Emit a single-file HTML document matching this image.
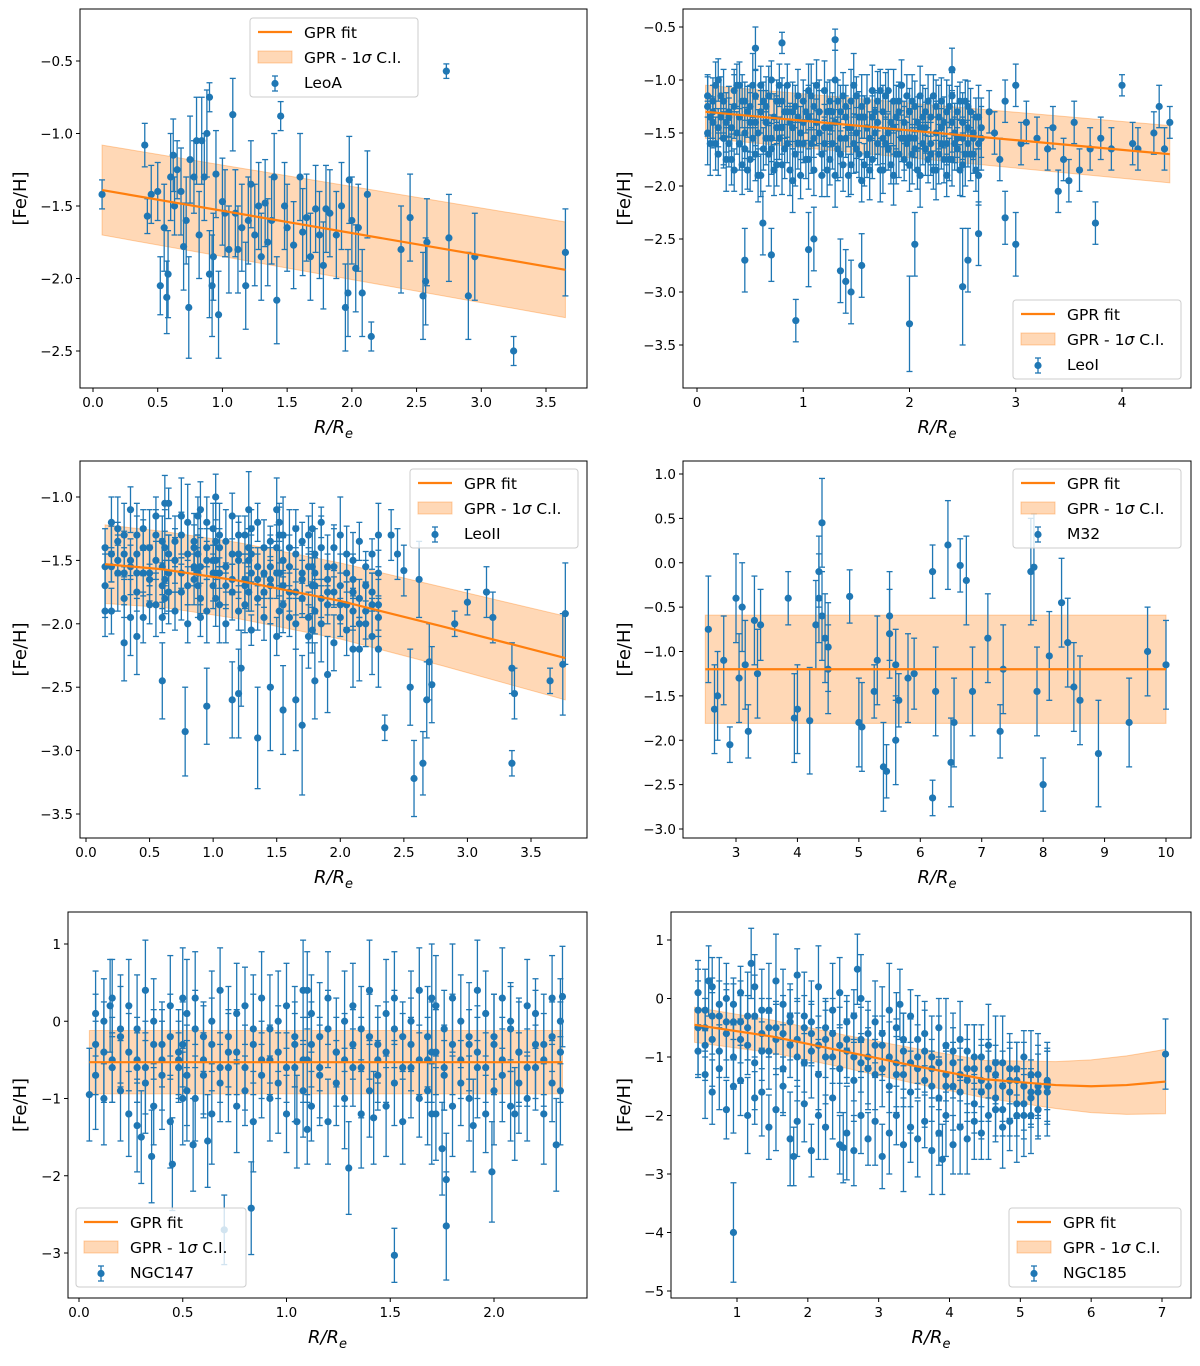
<!DOCTYPE html>
<html><head><meta charset="utf-8"><style>
html,body{margin:0;padding:0;background:#fff;}
svg text{font-family:"DejaVu Sans","Liberation Sans",sans-serif;fill:#000;}
</style></head><body>
<svg id="fig" width="1200" height="1361" viewBox="0 0 1200 1361" xmlns="http://www.w3.org/2000/svg"></svg>
<script>
// ---------------- DATA ----------------
// LeoA
const leoA_x=[0.07,0.4,0.42,0.45,0.5,0.52,0.55,0.57,0.58,0.6,0.62,0.63,0.65,0.68,0.7,0.72,0.74,0.75,0.78,0.8,0.82,0.84,0.86,0.88,0.9,0.9,0.92,0.93,0.95,0.97,1.0,1.02,1.05,1.08,1.1,1.12,1.15,1.18,1.2,1.22,1.25,1.28,1.3,1.33,1.35,1.38,1.4,1.42,1.45,1.48,1.5,1.55,1.6,1.62,1.65,1.68,1.72,1.75,1.78,1.8,1.83,1.88,1.92,1.95,1.97,1.98,2.0,2.03,2.05,2.08,2.12,2.15,2.38,2.45,2.55,2.57,2.58,2.75,2.9,2.95,2.73,3.25,3.65];
const leoA_y=[-1.42,-1.08,-1.57,-1.42,-1.4,-2.05,-1.65,-2.13,-1.97,-1.3,-1.15,-1.5,-1.25,-1.4,-1.78,-1.6,-2.2,-1.18,-1.3,-1.05,-1.7,-1.05,-1.3,-1.0,-0.75,-1.97,-2.05,-1.85,-1.28,-2.25,-1.47,-1.55,-1.8,-0.87,-1.55,-1.8,-1.65,-2.05,-1.6,-1.35,-1.7,-1.5,-1.85,-1.48,-1.75,-1.6,-1.3,-2.15,-0.88,-1.5,-1.65,-1.77,-1.3,-1.68,-1.58,-1.85,-1.52,-1.7,-1.91,-1.52,-1.55,-1.7,-1.5,-2.2,-2.1,-1.32,-1.6,-1.93,-1.65,-2.1,-1.42,-2.4,-1.8,-1.58,-2.12,-2.02,-1.75,-1.72,-2.12,-1.85,-0.57,-2.5,-1.82];
const leoA_e=[0.1,0.15,0.12,0.2,0.2,0.2,0.3,0.25,0.3,0.3,0.25,0.2,0.2,0.3,0.3,0.3,0.35,0.3,0.25,0.3,0.3,0.3,0.3,0.3,0.1,0.3,0.35,0.3,0.3,0.3,0.3,0.3,0.3,0.25,0.3,0.3,0.3,0.3,0.3,0.3,0.35,0.3,0.3,0.3,0.3,0.3,0.3,0.3,0.1,0.3,0.3,0.3,0.3,0.3,0.3,0.3,0.3,0.3,0.3,0.3,0.3,0.3,0.3,0.3,0.3,0.3,0.3,0.3,0.3,0.3,0.3,0.1,0.3,0.3,0.3,0.3,0.3,0.3,0.3,0.3,0.05,0.1,0.3];
const leoA_fitX=[0.07,3.65];
const leoA_fitY=[-1.39,-1.94];
const leoA_fitS=[0.31,0.33];
const leoA_xticks=[0,0.5,1,1.5,2,2.5,3,3.5];
const leoA_yticks=[-0.5,-1,-1.5,-2,-2.5];

// LeoI
const leoI_cx=[0.1,0.15,0.2,0.25,0.3,0.35,0.4,0.45,0.5,0.55,0.6,0.65,0.7,0.75,0.8,0.85,0.9,0.95,1.0,1.05,1.1,1.15,1.2,1.25,1.3,1.35,1.4,1.45,1.5,1.55,1.6,1.65,1.7,1.75,1.8,1.85,1.9,1.95,2.0,2.05,2.1,2.15,2.2,2.25,2.3,2.35,2.4,2.45,2.5,2.55,2.6,2.65];
const leoI_cyA=[-1.15,-1.3,-1.45,-1.2,-1.6,-1.1,-1.35,-1.5,-1.25,-1.7,-1.05,-1.4,-1.55,-1.2,-1.8,-1.3,-1.45,-1.15,-1.6,-1.35,-1.25,-1.5,-1.1,-1.75,-1.4,-1.3,-1.55,-1.2,-1.65,-1.35,-1.45,-1.1,-1.6,-1.3,-1.5,-1.2,-1.7,-1.4,-1.55,-1.25,-1.45,-1.65,-1.35,-1.5,-1.2,-1.6,-1.4,-1.3,-1.55,-1.45,-1.7,-1.35];
const leoI_cyB=[-1.5,-1.2,-1.7,-1.55,-1.3,-1.85,-1.6,-1.2,-1.75,-1.4,-1.9,-1.25,-1.65,-1.8,-1.45,-1.6,-1.95,-1.35,-1.2,-1.75,-1.85,-1.3,-1.6,-1.45,-1.9,-1.7,-1.25,-1.8,-1.5,-1.95,-1.2,-1.75,-1.4,-1.85,-1.65,-1.9,-1.3,-1.75,-1.8,-1.55,-1.9,-1.3,-1.7,-1.85,-1.6,-1.9,-1.75,-1.55,-1.8,-1.6,-1.5,-1.9];
const leoI_cyC=[-1.25,-1.4,-1.0,-1.55,-1.35,-1.25,-1.05,-1.65,-1.4,-1.15,-1.3,-1.55,-1.0,-1.45,-1.2,-1.05,-1.3,-1.6,-1.4,-1.1,-1.55,-1.3,-1.45,-1.2,-1.0,-1.55,-1.35,-1.45,-1.15,-1.25,-1.7,-1.35,-1.2,-1.55,-1.1,-1.45,-1.2,-1.55,-1.3,-1.65,-1.15,-1.45,-1.6,-1.25,-1.45,-1.3,-1.15,-1.65,-1.4,-1.25,-1.55,-1.6];
const leoI_cx2=[0.125,0.175,0.225,0.275,0.325,0.375,0.425,0.475,0.525,0.575,0.625,0.675,0.725,0.775,0.825,0.875,0.925,0.975,1.025,1.075,1.125,1.175,1.225,1.275,1.325,1.375,1.425,1.475,1.525,1.575,1.625,1.675,1.725,1.775,1.825,1.875,1.925,1.975,2.025,2.075,2.125,2.175,2.225,2.275,2.325,2.375,2.425,2.475,2.525,2.575,2.625,2.675];
const leoI_cyD=[-1.35,-1.6,-1.15,-1.75,-1.45,-1.05,-1.8,-1.3,-1.55,-1.9,-1.2,-1.7,-1.35,-1.05,-1.65,-1.85,-1.25,-1.5,-1.75,-1.15,-1.4,-1.9,-1.3,-1.6,-1.2,-1.8,-1.45,-1.05,-1.7,-1.35,-1.85,-1.5,-1.1,-1.6,-1.8,-1.35,-1.55,-1.15,-1.7,-1.4,-1.6,-1.2,-1.85,-1.35,-1.75,-1.25,-1.5,-1.85,-1.2,-1.7,-1.35,-1.55];
const leoI_cyE=[-1.6,-1.05,-1.35,-1.4,-1.75,-1.5,-1.2,-1.85,-1.05,-1.5,-1.65,-1.15,-1.85,-1.55,-1.3,-1.4,-1.7,-1.9,-1.3,-1.6,-1.05,-1.7,-1.85,-1.3,-1.65,-1.15,-1.9,-1.6,-1.35,-1.8,-1.55,-1.3,-1.85,-1.15,-1.4,-1.7,-1.05,-1.6,-1.2,-1.85,-1.35,-1.75,-1.15,-1.7,-1.4,-1.75,-1.6,-1.2,-1.7,-1.3,-1.85,-1.45];
const leoI_cErr=[0.2,0.25,0.18,0.3,0.22,0.2,0.28,0.24];
const leoI_x=[0.45,0.93,0.7,1.05,1.1,1.35,1.4,1.45,1.55,2.0,2.05,2.5,2.55,2.65,2.9,3.0,0.62,0.55,0.8,1.3,2.4,2.75,2.8,2.85,2.9,3.0,3.05,3.1,3.2,3.3,3.35,3.45,3.55,3.6,3.7,3.75,3.8,3.9,4.0,4.1,4.15,4.3,4.35,4.4,4.45,3.4,3.5];
const leoI_y=[-2.7,-3.27,-2.65,-2.6,-2.5,-2.8,-2.9,-3.0,-2.75,-3.3,-2.55,-2.95,-2.7,-2.45,-2.3,-2.55,-2.35,-0.7,-0.65,-0.62,-0.9,-1.3,-1.5,-1.75,-1.2,-1.05,-1.6,-1.4,-1.55,-1.65,-1.45,-1.75,-1.4,-1.85,-1.65,-2.35,-1.55,-1.65,-1.05,-1.6,-1.65,-1.5,-1.25,-1.65,-1.4,-2.05,-1.95];
const leoI_e=[0.3,0.2,0.25,0.35,0.3,0.3,0.3,0.3,0.3,0.45,0.3,0.55,0.3,0.3,0.25,0.3,0.3,0.2,0.1,0.1,0.2,0.2,0.2,0.2,0.2,0.2,0.2,0.2,0.2,0.2,0.2,0.2,0.2,0.2,0.2,0.2,0.2,0.2,0.1,0.2,0.2,0.2,0.2,0.2,0.15,0.2,0.2];
const leoI_fitX=[0.08,4.45];
const leoI_fitY=[-1.3,-1.7];
const leoI_fitS=[0.25,0.27];
const leoI_xticks=[0,1,2,3,4];
const leoI_yticks=[-0.5,-1,-1.5,-2,-2.5,-3,-3.5];

// LeoII
const leoII_cx=[0.15,0.2,0.25,0.3,0.35,0.4,0.45,0.5,0.55,0.6,0.65,0.7,0.75,0.8,0.85,0.9,0.95,1.0,1.05,1.1,1.15,1.2,1.25,1.3,1.35,1.4,1.45,1.5,1.55,1.6,1.65,1.7,1.75,1.8,1.85,1.9,1.95,2.0,2.05,2.1,2.15,2.2,2.25,2.3,1.02,1.28,1.52,0.62,0.88,1.78];
const leoII_cyA=[-1.4,-1.2,-1.5,-1.3,-1.1,-1.45,-1.25,-1.6,-1.15,-1.35,-1.05,-1.5,-1.3,-1.2,-1.55,-1.1,-1.4,-1.25,-1.6,-1.35,-1.15,-1.5,-1.3,-1.45,-1.2,-1.6,-1.35,-1.1,-1.5,-1.4,-1.25,-1.6,-1.3,-1.45,-1.2,-1.55,-1.4,-1.3,-1.6,-1.5,-1.35,-1.7,-1.45,-1.3,-1.0,-1.1,-1.2,-1.05,-1.15,-1.25];
const leoII_cyB=[-1.7,-1.9,-1.6,-1.8,-1.55,-1.75,-1.95,-1.65,-1.85,-1.7,-1.6,-1.9,-1.75,-2.0,-1.65,-1.8,-1.9,-1.7,-1.85,-2.0,-1.75,-1.9,-1.65,-2.05,-1.8,-1.95,-1.7,-2.1,-1.85,-1.95,-2.0,-1.8,-2.1,-1.9,-2.0,-1.85,-2.15,-1.95,-2.05,-1.9,-2.2,-2.0,-2.1,-1.95,-1.8,-1.75,-1.9,-1.8,-1.7,-2.05];
const leoII_cyC=[-1.55,-1.45,-1.35,-1.6,-1.5,-1.3,-1.6,-1.4,-1.5,-1.55,-1.45,-1.35,-1.6,-1.45,-1.4,-1.55,-1.5,-1.6,-1.4,-1.55,-1.65,-1.45,-1.7,-1.6,-1.55,-1.4,-1.65,-1.6,-1.7,-1.55,-1.75,-1.65,-1.55,-1.7,-1.8,-1.65,-1.75,-1.7,-1.85,-1.75,-1.8,-1.9,-1.75,-1.85,-1.5,-1.5,-1.6,-1.4,-1.45,-1.7];
const leoII_cyD=[-1.9,-1.55,-1.25,-1.45,-1.95,-1.6,-1.4,-1.85,-1.3,-1.95,-1.75,-1.5,-1.15,-1.7,-1.35,-1.95,-1.2,-1.5,-1.3,-1.7,-1.45,-1.3,-1.85,-1.25,-1.65,-1.75,-1.55,-1.4,-1.3,-1.75,-1.45,-1.35,-1.95,-1.6,-1.4,-1.75,-1.55,-1.85,-1.45,-1.65,-2.0,-1.55,-1.85,-1.6,-1.35,-1.4,-1.3,-1.65,-1.6,-1.55];
const leoII_cErr=[0.15,0.2,0.12,0.25,0.18,0.3,0.15,0.22];
const leoII_x=[0.6,0.78,0.95,1.15,1.2,1.22,1.35,1.45,1.55,1.65,1.7,1.8,1.9,2.35,2.55,2.58,2.65,2.68,2.7,2.72,2.62,2.5,2.4,2.45,2.9,3.0,3.15,3.2,3.35,3.35,3.37,3.65,3.75,3.77,2.1,2.3,0.4,0.3];
const leoII_y=[-2.45,-2.85,-2.65,-2.6,-2.55,-2.35,-2.9,-2.5,-2.68,-2.6,-2.8,-2.45,-2.4,-2.82,-2.5,-3.22,-3.1,-2.6,-2.3,-2.48,-1.65,-1.58,-1.3,-1.45,-2.0,-1.83,-1.75,-1.95,-2.35,-3.1,-2.55,-2.45,-2.32,-1.92,-2.2,-2.2,-2.1,-2.15];
const leoII_e=[0.3,0.35,0.3,0.3,0.35,0.3,0.4,0.5,0.35,0.4,0.55,0.3,0.3,0.1,0.3,0.3,0.25,0.3,0.3,0.3,0.3,0.2,0.2,0.2,0.1,0.1,0.2,0.2,0.2,0.1,0.2,0.1,0.4,0.4,0.3,0.3,0.3,0.3];
const leoII_fitX=[0.15,0.6,1.2,2.0,2.8,3.77];
const leoII_fitY=[-1.53,-1.57,-1.66,-1.82,-2.02,-2.27];
const leoII_fitS=[0.31,0.3,0.3,0.3,0.31,0.33];
const leoII_xticks=[0,0.5,1,1.5,2,2.5,3,3.5];
const leoII_yticks=[-1,-1.5,-2,-2.5,-3,-3.5];

// M32
const m32_x=[2.55,2.65,2.7,2.8,2.9,3.0,3.05,3.1,3.15,3.3,3.35,3.4,3.85,3.95,4.0,4.2,4.3,4.35,4.35,4.4,4.4,4.45,4.5,4.5,4.85,5.0,5.05,5.25,5.3,5.4,5.45,5.5,5.5,5.6,5.6,5.65,5.8,5.9,6.2,6.25,6.45,6.5,6.55,6.65,6.75,6.85,7.1,7.3,7.35,7.8,7.85,7.9,8.0,8.1,8.3,8.4,8.5,8.6,8.9,9.4,9.7,10.0,6.2,3.2];
const m32_y=[-0.75,-1.65,-1.5,-1.1,-2.05,-0.4,-1.3,-0.5,-1.15,-0.65,-1.25,-0.7,-0.4,-1.75,-1.65,-1.78,-0.7,-0.4,-0.1,0.45,-0.6,-0.85,-1.2,-0.95,-0.38,-1.8,-1.85,-1.45,-1.1,-2.3,-2.35,-0.6,-0.8,-1.15,-2.0,-1.55,-1.3,-1.25,-0.1,-1.45,0.2,-2.25,-1.8,-0.03,-0.2,-1.45,-0.85,-1.9,-1.2,-0.1,-0.05,-1.45,-2.5,-1.05,-0.45,-0.9,-1.4,-1.55,-2.15,-1.8,-1.0,-1.15,-2.65,-1.9];
const m32_e=[0.6,0.5,0.5,0.5,0.2,0.5,0.5,0.5,0.5,0.5,0.5,0.4,0.3,0.5,0.5,0.6,0.5,0.5,0.4,0.5,0.5,0.5,0.5,0.5,0.3,0.5,0.5,0.3,0.5,0.5,0.3,0.5,0.5,0.4,0.5,0.3,0.5,0.4,0.3,0.5,0.5,0.5,0.5,0.3,0.5,0.5,0.5,0.3,0.5,0.6,0.6,0.5,0.3,0.5,0.5,0.5,0.5,0.5,0.6,0.5,0.5,0.5,0.2,0.3];
const m32_fitX=[2.5,10.0];
const m32_fitY=[-1.2,-1.2];
const m32_fitS=[0.61,0.61];
const m32_xticks=[3,4,5,6,7,8,9,10];
const m32_yticks=[1,0.5,0,-0.5,-1,-1.5,-2,-2.5,-3];

// NGC147
const n147_cx=[0.08,0.12,0.16,0.2,0.24,0.28,0.32,0.36,0.4,0.44,0.48,0.52,0.56,0.6,0.64,0.68,0.72,0.76,0.8,0.84,0.88,0.92,0.96,1.0,1.04,1.08,1.12,1.16,1.2,1.24,1.28,1.32,1.36,1.4,1.44,1.48,1.52,1.56,1.6,1.64,1.68,1.72,1.76,1.8,1.84,1.88,1.92,1.96,2.0,2.04,2.08,2.12,2.16,2.2,2.24,2.28,2.32,0.5,1.1,1.7];
const n147_cyA=[0.1,-0.4,0.3,-0.1,0.2,-0.6,0.4,0.0,-0.3,0.2,-0.5,0.1,0.3,-0.2,0.0,0.4,-0.4,0.1,0.2,-0.1,0.3,-0.5,0.0,0.2,-0.3,0.4,0.1,-0.2,0.3,-0.4,0.0,0.2,-0.1,0.4,-0.3,0.1,0.3,-0.2,0.0,0.4,-0.5,0.2,-0.1,0.3,0.0,-0.3,0.4,0.1,-0.2,0.3,0.0,-0.4,0.2,0.1,-0.3,0.3,0.0,0.3,0.4,0.3];
const n147_cyB=[-0.7,-1.0,-0.6,-0.9,-1.2,-0.5,-0.8,-1.1,-0.7,-1.3,-0.6,-0.9,-1.0,-0.7,-1.2,-0.8,-0.6,-1.1,-0.9,-1.3,-0.7,-1.0,-0.8,-1.2,-0.6,-0.9,-1.1,-0.7,-1.3,-0.8,-1.0,-0.6,-1.2,-0.9,-0.7,-1.1,-0.8,-1.3,-0.6,-1.0,-0.9,-1.2,-0.7,-1.1,-0.8,-1.0,-0.6,-1.2,-0.9,-0.7,-1.1,-0.8,-1.0,-0.6,-1.2,-0.8,-0.9,-1.0,-1.4,-1.2];
const n147_cyC=[-0.3,0.0,-0.5,-0.2,-0.4,-0.1,-0.6,-0.3,-0.5,-0.2,-0.4,-0.7,-0.1,-0.5,-0.3,-0.6,-0.2,-0.4,-0.6,-0.3,-0.5,-0.1,-0.4,-0.6,-0.2,-0.5,-0.3,-0.6,-0.1,-0.4,-0.5,-0.3,-0.6,-0.2,-0.5,-0.4,-0.1,-0.6,-0.3,-0.5,-0.2,-0.4,-0.6,-0.3,-0.5,-0.2,-0.4,-0.6,-0.3,-0.5,-0.1,-0.4,-0.6,-0.3,-0.5,-0.2,-0.4,-0.3,-0.5,-0.4];
const n147_cErr=[0.55,0.65,0.5,0.7,0.6,0.45,0.65,0.55];
const n147_x=[0.05,0.35,0.45,0.55,0.7,0.83,1.3,1.52,1.77,1.77,1.75,1.99,2.3,0.3,0.15,2.33,0.28,0.62,1.05,1.42,1.9,2.1];
const n147_y=[-0.95,-1.75,-1.85,-1.6,-2.7,-2.42,-1.9,-3.03,-2.05,-2.65,-1.65,-1.95,-1.6,-1.5,0.2,0.32,-1.35,-1.55,-1.3,-1.25,-1.35,-1.2];
const n147_e=[0.6,0.6,0.6,0.6,0.45,0.6,0.6,0.35,0.6,0.7,0.6,0.65,0.6,0.6,0.6,0.65,0.6,0.6,0.6,0.6,0.6,0.6];
const n147_fitX=[0.05,2.33];
const n147_fitY=[-0.53,-0.53];
const n147_fitS=[0.41,0.41];
const n147_xticks=[0,0.5,1,1.5,2];
const n147_yticks=[1,0,-1,-2,-3];

// NGC185
const n185_cx=[0.45,0.55,0.65,0.75,0.85,0.95,1.05,1.15,1.25,1.35,1.45,1.55,1.65,1.75,1.85,1.95,2.05,2.15,2.25,2.35,2.45,2.55,2.65,2.75,2.85,2.95,3.05,3.15,3.25,3.35,3.45,3.55,3.65,3.75,3.85,3.95,4.05,4.15,4.25,4.35,4.45,4.55,4.65,4.75,4.85,4.95,5.05,5.15,5.25,5.38];
const n185_cyA=[0.1,-0.2,0.2,-0.1,0.0,-0.4,0.1,-0.3,0.2,-0.2,-0.5,0.3,-0.1,-0.4,0.4,-0.3,-0.6,0.2,-0.5,-0.2,0.1,-0.7,-0.3,0.0,-0.6,-0.4,-0.8,-0.2,-0.5,-0.9,-0.3,-0.7,-0.6,-1.0,-0.5,-0.8,-1.1,-0.7,-0.9,-1.2,-1.0,-0.8,-1.3,-1.1,-1.2,-1.4,-1.0,-1.3,-1.5,-1.45];
const n185_cyB=[-0.5,-0.8,-0.3,-0.9,-0.6,-1.0,-0.4,-0.8,-1.1,-0.6,-0.9,-0.5,-1.2,-0.8,-0.7,-1.1,-0.9,-1.3,-0.7,-1.0,-1.2,-0.9,-1.4,-1.1,-1.0,-1.3,-1.2,-1.5,-1.1,-1.3,-1.6,-1.2,-1.4,-1.5,-1.7,-1.3,-1.5,-1.6,-1.4,-1.8,-1.6,-1.5,-1.7,-1.9,-1.6,-1.8,-2.0,-1.7,-1.6,-1.5];
const n185_cyC=[-0.9,-1.3,-1.6,-1.2,-1.9,-1.5,-1.4,-2.0,-1.7,-1.6,-2.2,-1.9,-1.5,-2.4,-2.1,-1.8,-2.6,-2.0,-2.2,-1.7,-2.5,-2.3,-2.6,-2.0,-2.4,-2.1,-2.7,-2.3,-2.0,-2.5,-2.2,-2.4,-2.1,-2.6,-2.3,-2.0,-2.5,-2.2,-2.4,-2.1,-2.3,-2.0,-1.9,-2.2,-2.1,-2.0,-1.8,-2.0,-1.9,-1.6];
const n185_cyD=[-0.2,-0.5,-0.7,-0.3,-0.4,-0.1,-0.7,-0.5,-0.3,-0.9,-0.2,-0.7,-0.6,-0.3,-1.0,-0.5,-0.4,-0.8,-1.0,-0.6,-0.8,-0.4,-1.0,-0.7,-1.2,-0.8,-0.6,-1.0,-1.3,-0.7,-1.1,-1.0,-0.9,-1.2,-1.1,-1.5,-0.9,-1.3,-1.2,-1.0,-1.4,-1.2,-1.1,-1.5,-1.4,-1.2,-1.5,-1.6,-1.3,-1.4];
const n185_cErr=[0.55,0.7,0.5,0.8,0.6,0.65,0.45,0.75];
const n185_x=[0.95,7.05,3.9,1.8,2.5,0.6,1.2,2.7,3.3];
const n185_y=[-4.0,-0.95,-2.75,-2.7,-2.55,0.3,0.6,0.5,-0.1];
const n185_e=[0.85,0.6,0.6,0.5,0.6,0.6,0.6,0.6,0.6];
const n185_fitX=[0.4,1.5,2.5,3.5,4.5,5.5,6.0,6.5,7.05];
const n185_fitY=[-0.45,-0.65,-0.9,-1.15,-1.38,-1.48,-1.5,-1.48,-1.42];
const n185_fitS=[0.3,0.28,0.28,0.3,0.32,0.4,0.45,0.5,0.55];
const n185_xticks=[1,2,3,4,5,6,7];
const n185_yticks=[1,0,-1,-2,-3,-4,-5];

// ---------------- DRAWING ----------------
const NS='http://www.w3.org/2000/svg';
const svg=document.getElementById('fig');
function mk(tag,attrs,parent){const e=document.createElementNS(NS,tag);for(const k in attrs)e.setAttribute(k,attrs[k]);(parent||svg).appendChild(e);return e;}
function lin(d0,d1,p0,p1){return v=>p0+(v-d0)*(p1-p0)/(d1-d0);}
function fmt(v,dec){let s=v.toFixed(dec);if(v<0)s='\u2212'+s.slice(1);return s;}

function drawPanel(P){
  const g=mk('g',{});
  
  
  const X=lin(P.xd[0],P.xd[1],P.xp[0],P.xp[1]);
  const Y=lin(P.yd[0],P.yd[1],P.yp[0],P.yp[1]);
  const b=P.box;
  const cid='clip-'+P.name;
  const cp=mk('clipPath',{id:cid},g);
  mk('rect',{x:b[0],y:b[1],width:b[2]-b[0],height:b[3]-b[1]},cp);
  const plot=mk('g',{'clip-path':'url(#'+cid+')'},g);
  let pts=[];
  for(let i=0;i<P.fitX.length;i++)pts.push(X(P.fitX[i])+','+Y(P.fitY[i]+P.fitS[i]));
  for(let i=P.fitX.length-1;i>=0;i--)pts.push(X(P.fitX[i])+','+Y(P.fitY[i]-P.fitS[i]));
  const band=mk('polygon',{points:pts.join(' '),fill:'#ff7f0e','fill-opacity':0.3,stroke:'#ff7f0e','stroke-opacity':0.35,'stroke-width':1},plot);
  
  
  const pg=mk('g',{},plot);
  
  
  function pt(x,y,e){
    const cx=X(x),cy=Y(y),t=Y(y+e),bo=Y(y-e);
    mk('line',{x1:cx,x2:cx,y1:t,y2:bo,stroke:'#1f77b4','stroke-width':1.3},pg);
    mk('line',{x1:cx-3,x2:cx+3,y1:t,y2:t,stroke:'#1f77b4','stroke-width':1.3},pg);
    mk('line',{x1:cx-3,x2:cx+3,y1:bo,y2:bo,stroke:'#1f77b4','stroke-width':1.3},pg);
    const c=mk('circle',{cx:cx,cy:cy,r:3.6,fill:'#1f77b4'},pg);
    
    
  }
  (P.clouds||[]).forEach(cl=>{cl.ys.forEach((ys,ri)=>{for(let i=0;i<cl.x.length;i++)pt(cl.x[i],ys[i],cl.err[(i+ri*3)%cl.err.length]);});});
  for(let i=0;i<P.x.length;i++)pt(P.x[i],P.y[i],P.e[i]);
  let d='';
  for(let i=0;i<P.fitX.length;i++)d+=(i?'L':'M')+X(P.fitX[i])+' '+Y(P.fitY[i]);
  const fl=mk('path',{d:d,fill:'none',stroke:'#ff7f0e','stroke-width':2.2},plot);
  
  
  mk('rect',{x:b[0],y:b[1],width:b[2]-b[0],height:b[3]-b[1],fill:'none',stroke:'#000','stroke-width':1},g);
  const xa=mk('g',{},g);
  
  
  P.xticks.forEach(v=>{const px=X(v);mk('line',{x1:px,x2:px,y1:b[3],y2:b[3]+4,stroke:'#000'},xa);
    const t=mk('text',{x:px,y:b[3]+19,'text-anchor':'middle','font-size':13.5},xa);t.textContent=fmt(v,P.xdec);});
  const ya=mk('g',{},g);
  
  
  P.yticks.forEach(v=>{const py=Y(v);mk('line',{x1:b[0]-4,x2:b[0],y1:py,y2:py,stroke:'#000'},ya);
    const t=mk('text',{x:b[0]-7,y:py+5,'text-anchor':'end','font-size':13.5},ya);t.textContent=fmt(v,P.ydec);});
  const xl=mk('text',{x:(b[0]+b[2])/2,y:b[3]+45,'text-anchor':'middle','font-size':18,'font-style':'italic'},g);
  
  
  xl.innerHTML='R/R<tspan font-size="13" dy="5">e</tspan>';
  const yl=mk('text',{x:0,y:0,'text-anchor':'middle','font-size':18,transform:'translate('+(P.ylx)+','+((b[1]+b[3])/2)+') rotate(-90)'},g);
  
  
  yl.textContent='[Fe/H]';
  const L=P.leg;
  const lg=mk('g',{},g);
  
  
  mk('rect',{x:L[0],y:L[1],width:L[2],height:79,rx:3,fill:'#fff','fill-opacity':0.8,stroke:'#ccc'},lg);
  const lx=L[0]+8;
  mk('line',{x1:lx,x2:lx+34,y1:L[1]+14,y2:L[1]+14,stroke:'#ff7f0e','stroke-width':2.2},lg);
  mk('rect',{x:lx,y:L[1]+33,width:34,height:12,fill:'#ff7f0e','fill-opacity':0.3,stroke:'#ff7f0e','stroke-opacity':0.35},lg);
  mk('line',{x1:lx+17,x2:lx+17,y1:L[1]+58,y2:L[1]+73,stroke:'#1f77b4','stroke-width':1.3},lg);
  mk('line',{x1:lx+14,x2:lx+20,y1:L[1]+58,y2:L[1]+58,stroke:'#1f77b4','stroke-width':1.3},lg);
  mk('line',{x1:lx+14,x2:lx+20,y1:L[1]+73,y2:L[1]+73,stroke:'#1f77b4','stroke-width':1.3},lg);
  mk('circle',{cx:lx+17,cy:L[1]+65.5,r:3.6,fill:'#1f77b4'},lg);
  const labels=['GPR fit','GPR - 1\u03C3 C.I.',P.label];
  labels.forEach((s,i)=>{const t=mk('text',{x:lx+46,y:L[1]+20+i*25,'font-size':15.5},lg);
    if(i==1){t.innerHTML='GPR - 1<tspan font-style="italic">\u03C3</tspan> C.I.';}else t.textContent=s;
    
    });
}

const panels=[
 {name:'leoa',label:'LeoA',box:[80,9,587,388],xd:[0,3.5],xp:[93,546],yd:[-0.5,-2.5],yp:[61,351],xdec:1,ydec:1,
  xticks:leoA_xticks,yticks:leoA_yticks,x:leoA_x,y:leoA_y,e:leoA_e,fitX:leoA_fitX,fitY:leoA_fitY,fitS:leoA_fitS,leg:[250,18,168],ylx:26},
 {name:'leoi',label:'LeoI',box:[683,9,1191,388],xd:[0,4],xp:[697,1122],yd:[-0.5,-3.5],yp:[27,345],xdec:0,ydec:1,
  clouds:[{x:leoI_cx,ys:[leoI_cyA,leoI_cyB,leoI_cyC],err:leoI_cErr},{x:leoI_cx2,ys:[leoI_cyD,leoI_cyE],err:leoI_cErr}],
  xticks:leoI_xticks,yticks:leoI_yticks,x:leoI_x,y:leoI_y,e:leoI_e,fitX:leoI_fitX,fitY:leoI_fitY,fitS:leoI_fitS,leg:[1013,300,168],ylx:630},
 {name:'leoii',label:'LeoII',box:[80,461,587,838],xd:[0,3.5],xp:[86,531],yd:[-1,-3.5],yp:[497,814],xdec:1,ydec:1,
  clouds:[{x:leoII_cx,ys:[leoII_cyA,leoII_cyB,leoII_cyC,leoII_cyD],err:leoII_cErr}],
  xticks:leoII_xticks,yticks:leoII_yticks,x:leoII_x,y:leoII_y,e:leoII_e,fitX:leoII_fitX,fitY:leoII_fitY,fitS:leoII_fitS,leg:[410,469,168],ylx:26},
 {name:'m32',label:'M32',box:[683,461,1191,838],xd:[3,10],xp:[736,1166],yd:[1,-3],yp:[474,829],xdec:0,ydec:1,
  xticks:m32_xticks,yticks:m32_yticks,x:m32_x,y:m32_y,e:m32_e,fitX:m32_fitX,fitY:m32_fitY,fitS:m32_fitS,leg:[1013,469,168],ylx:630},
 {name:'ngc147',label:'NGC147',box:[68,912,587,1298],xd:[0,2],xp:[79,494],yd:[1,-3],yp:[944,1253],xdec:1,ydec:0,
  clouds:[{x:n147_cx,ys:[n147_cyA,n147_cyB,n147_cyC],err:n147_cErr}],
  xticks:n147_xticks,yticks:n147_yticks,x:n147_x,y:n147_y,e:n147_e,fitX:n147_fitX,fitY:n147_fitY,fitS:n147_fitS,leg:[76,1208,170],ylx:26},
 {name:'ngc185',label:'NGC185',box:[671,912,1191,1298],xd:[1,7],xp:[737,1162],yd:[1,-5],yp:[940,1291],xdec:0,ydec:0,
  clouds:[{x:n185_cx,ys:[n185_cyA,n185_cyB,n185_cyC,n185_cyD],err:n185_cErr}],
  xticks:n185_xticks,yticks:n185_yticks,x:n185_x,y:n185_y,e:n185_e,fitX:n185_fitX,fitY:n185_fitY,fitS:n185_fitS,leg:[1009,1208,172],ylx:630}
];
panels.forEach(drawPanel);
</script>
</body></html>
